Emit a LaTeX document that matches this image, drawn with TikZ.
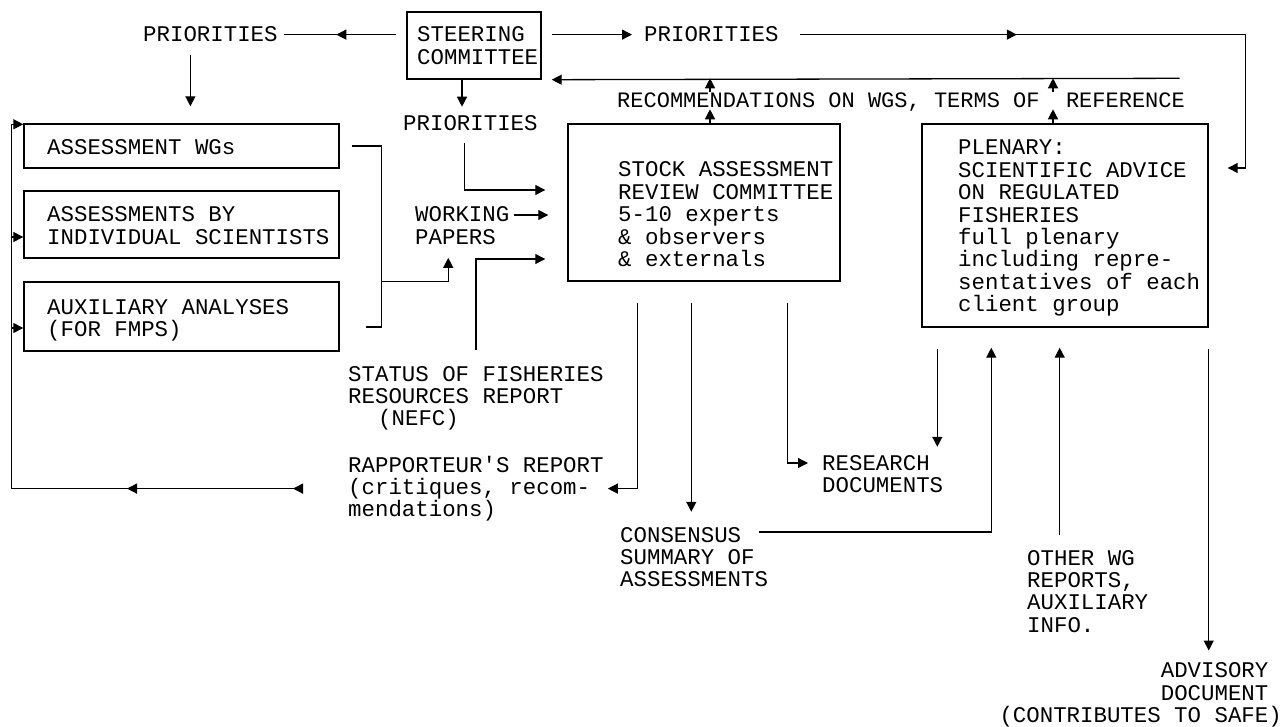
\documentclass[tikz,border=0pt]{standalone}
\usepackage{fontspec}
\setmonofont{Liberation Mono}
\usetikzlibrary{arrows.meta,calc,decorations.markings}

\tikzset{
  txt/.style={inner sep=0pt, anchor=base west, align=left, font=\ttfamily\fontsize{22.4}{22.4}\selectfont},
  blk/.style={draw, line width=1.4pt, inner sep=0pt},
  con/.style={line width=1.3pt},
  arr/.style={con, -{Triangle[length=10pt,width=10pt]}},
  tipat/.style={postaction={decorate, decoration={markings, mark=at position #1 with {\arrow{Triangle[length=10pt,width=10pt]}}}}},
}

\begin{document}
\begin{tikzpicture}[x=1pt, y=-1pt]
  \useasboundingbox (0,0) rectangle (1283,727);

  % Steering committee (text nodes sit on the baseline of their last line)
  \node[blk, minimum width=134pt, minimum height=67pt] (steer) at (474,45.5) {};
  \node[txt] (steer-t) at (417,64.4) {STEERING\\COMMITTEE};
  \node[txt] (prioL) at (143,42) {PRIORITIES};
  \node[txt] (prioR) at (644,42) {PRIORITIES};
  \node[txt] (prioM) at (403,131) {PRIORITIES};
  \node[txt, font=\ttfamily\fontsize{22}{22.4}\selectfont] (rec) at (617,108) {RECOMMENDATIONS ON WGS, TERMS OF\ \ REFERENCE};

  % Assessment boxes
  \node[blk, minimum width=315pt, minimum height=44pt] (wgs) at (181.5,146) {};
  \node[txt] (wgs-t) at (47,155) {ASSESSMENT WGs};
  \node[blk, minimum width=315pt, minimum height=67pt] (indiv) at (181.5,224.5) {};
  \node[txt] (indiv-t) at (47,244.4) {ASSESSMENTS BY\\INDIVIDUAL SCIENTISTS};
  \node[blk, minimum width=315pt, minimum height=69pt] (aux) at (181.5,316.5) {};
  \node[txt] (aux-t) at (47,336.4) {AUXILIARY ANALYSES\\(FOR FMPS)};

  % Review committee and plenary
  \node[blk, minimum width=272pt, minimum height=157pt] (sarc) at (704,202.5) {};
  \node[txt] (sarc-t) at (618,266.6) {STOCK ASSESSMENT\\REVIEW COMMITTEE\\5-10 experts\\\& observers\\\& externals};
  \node[blk, minimum width=286pt, minimum height=203pt] (plen) at (1065,225.5) {};
  \node[txt] (plen-t) at (958,311.8) {PLENARY:\\SCIENTIFIC ADVICE\\ON REGULATED\\FISHERIES\\full plenary\\including repre-\\sentatives of each\\client group};

  % Free texts
  \node[txt] (working) at (415,244.4) {WORKING\\PAPERS};
  \node[txt] (status) at (348,425.8) {STATUS OF FISHERIES\\RESOURCES REPORT\\\hspace*{30pt}(NEFC)};
  \node[txt] (rapp) at (348,516.8) {RAPPORTEUR'S REPORT\\(critiques, recom-\\mendations)};
  \node[txt] (research) at (822,492.4) {RESEARCH\\DOCUMENTS};
  \node[txt] (cons) at (620,586.8) {CONSENSUS\\SUMMARY OF\\ASSESSMENTS};
  \node[txt] (other) at (1027,632.2) {OTHER WG\\REPORTS,\\AUXILIARY\\INFO.};
  \node[txt, anchor=base east, align=right] (adv) at (1282,722.5) {ADVISORY\hphantom{)}\\DOCUMENT\hphantom{)}\\(CONTRIBUTES TO SAFE)};

  % Priorities from the steering committee
  \draw[con, tipat=60pt] ($(steer.west |- prioL.east)+(-10,0)$) -- ($(prioL.east)+(6,0)$);
  \draw[arr] ($(steer.east |- prioR.west)+(10,0)$) -- ($(prioR.west)+(-12,0)$);
  \draw[arr, tipat=217pt] ($(prioR.east)+(21,0)$) -| ($(plen.east)+(37,-57.5)$) -- ($(plen.east)+(19,-57.5)$);
  \draw[arr] ($(prioL.south)+(-20,13)$) -- ($(prioL.south |- wgs.north)+(-20,-17)$);
  \draw[arr] ($(steer.south)+(-12,0)$) -- ($(steer.south)+(-12,27)$);
  \draw[arr] ($(prioM.south)+(-6,12)$) |- ($(sarc.west)+(-22,-12.5)$);

  % Recommendations back to the steering committee
  \draw[arr] ($(plen.north east)+(-29,-45)$) -- ($(steer.south east)+(10,0)$);
  \draw[arr] ($(sarc.north)+(6,0)$) -- ($(sarc.north)+(6,-14)$);
  \draw[arr] ($(sarc.north)+(6,-31)$) -- ($(sarc.north)+(6,-45)$);
  \draw[arr] ($(plen.north)+(-12,0)$) -- ($(plen.north)+(-12,-14)$);
  \draw[arr] ($(plen.north)+(-12,-31)$) -- ($(plen.north)+(-12,-45)$);

  % Inputs to the review committee
  \draw[arr] ($(working.base east)+(4,-29.4)$) -- ($(working.base east -| sarc.west)+(-19,-29.4)$);
  \draw[con] ($(wgs.east)+(12,0)$) -| ($(aux.east)+(42,10.5)$) -- ($(aux.east)+(26,10.5)$);
  \draw[arr] ($(aux.north east)+(42,0)$) -| ($(working.south)+(-14,13)$);
  \draw[arr] ($(status.north)+(0,-16)$) |- ($(sarc.west)+(-22,56.5)$);

  % Rapporteur's report back to the assessments
  \draw[arr, tipat=10pt, tipat=176pt] ($(rapp.west)+(-45,0)$) -| ($(wgs.north west)+(-12,1)$) -- ($(wgs.north west)+(0,1)$);
  \draw[arr] ($(indiv.west)+(-12,12.5)$) -- ($(indiv.west)+(0,12.5)$);
  \draw[arr] ($(aux.west)+(-12,11.5)$) -- ($(aux.west)+(0,11.5)$);

  % Outputs of the review committee
  \draw[arr] ($(sarc.south west)+(70,21)$) |- ($(rapp.east)+(4,0)$);
  \draw[arr] ($(sarc.south west)+(124,21)$) -- ($(sarc.south west |- cons.north)+(124,-15)$);
  \draw[arr] ($(sarc.south west)+(220,21)$) |- ($(research.base west)+(-14,-29.4)$);

  % Plenary inputs and outputs
  \draw[arr] ($(plen.south west)+(16,21)$) -- ($(plen.south west |- research.north)+(16,-8)$);
  \draw[arr] ($(cons.base west)+(139,-54.8)$) -| ($(plen.south west)+(70,20)$);
  \draw[arr] ($(other.north)+(-28,-15)$) -- ($(other.north |- plen.south)+(-28,20)$);
  \draw[arr] ($(plen.south east)+(0,21)$) -- ($(plen.south east |- adv.north)+(0,-12)$);
\end{tikzpicture}
\end{document}
